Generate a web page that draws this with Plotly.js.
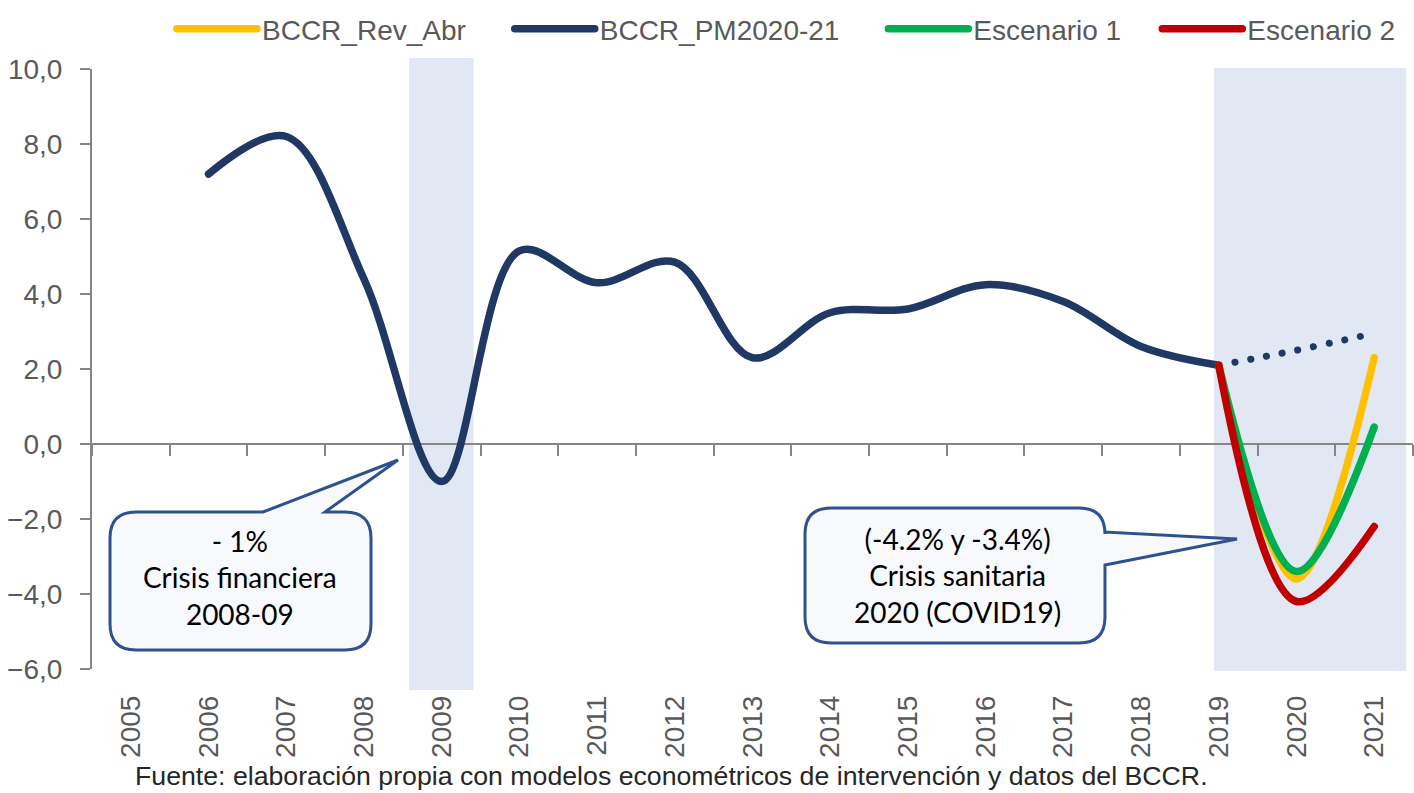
<!DOCTYPE html>
<html>
<head>
<meta charset="utf-8">
<script src="https://cdn.plot.ly/plotly-3.0.1.min.js"></script>
<style>
  html, body { margin: 0; padding: 0; background: #fff; }
  #chart { width: 1414px; height: 793px; }
  .js-line { stroke-linecap: round; stroke-linejoin: round; }
</style>
</head>
<body>
<div id="chart"></div>
<script>
// ---- data ----
const years = ['2005','2006','2007','2008','2009','2010','2011','2012','2013','2014','2015','2016','2017','2018','2019','2020','2021'];
const pmValues = [null, 7.2, 8.2, 4.4, -1.0, 5.15, 4.3, 4.85, 2.3, 3.5, 3.6, 4.25, 3.8, 2.6, 2.1, null, null];
const pmProjection = [null, null, null, null, null, null, null, null, null, null, null, null, null, null, 2.1, 2.5, 2.95];
const revAbr = [null, null, null, null, null, null, null, null, null, null, null, null, null, null, 2.1, -3.6, 2.3];
const escenario1 = [null, null, null, null, null, null, null, null, null, null, null, null, null, null, 2.1, -3.4, 0.45];
const escenario2 = [null, null, null, null, null, null, null, null, null, null, null, null, null, null, 2.1, -4.2, -2.2];
const seriesNames = ['BCCR_Rev_Abr', 'BCCR_PM2020-21', 'Escenario 1', 'Escenario 2'];
const yTicks = [-6, -4, -2, 0, 2, 4, 6, 8, 10];
const sourceText = 'Fuente: elaboración propia con modelos econométricos de intervención y datos del BCCR.';
const note1 = ['- 1%', 'Crisis financiera', '2008-09'];
const note2 = ['(-4.2% y -3.4%)', 'Crisis sanitaria', '2020 (COVID19)'];

// ---- geometry helpers (pixel -> paper) ----
const L = 92, T = 69, W = 1321, H = 600;
const px = x => (x - L) / W;
const py = y => (T + H - y) / H;

function bubblePath(x0, y0, x1, y1, r, tail) {
  const P = (x, y) => px(x).toFixed(5) + ',' + py(y).toFixed(5);
  let d = 'M' + P(x0 + r, y0);
  if (tail.side === 'top') {
    d += ' L' + P(tail.a, y0) + ' L' + P(tail.tx, tail.ty) + ' L' + P(tail.b, y0);
  }
  d += ' L' + P(x1 - r, y0) + ' Q' + P(x1, y0) + ' ' + P(x1, y0 + r);
  if (tail.side === 'right') {
    d += ' L' + P(x1, tail.a) + ' L' + P(tail.tx, tail.ty) + ' L' + P(x1, tail.b);
  }
  d += ' L' + P(x1, y1 - r) + ' Q' + P(x1, y1) + ' ' + P(x1 - r, y1);
  d += ' L' + P(x0 + r, y1) + ' Q' + P(x0, y1) + ' ' + P(x0, y1 - r);
  d += ' L' + P(x0, y0 + r) + ' Q' + P(x0, y0) + ' ' + P(x0 + r, y0) + ' Z';
  return d;
}

const navy = '#1F3864';
const lineW = 7.5;
const grayTxt = '#595959';
const axisGray = '#868686';
const sans = '"Liberation Sans", Arial, sans-serif';
const noteFont = 'Lato, Carlito, Calibri, sans-serif';
const pad5 = '\u00a0\u00a0\u00a0\u00a0\u00a0';
const pad4 = '\u00a0\u00a0\u00a0\u00a0';

const traces = [
  { x: years, y: pmValues, name: seriesNames[1] + pad5, type: 'scatter', mode: 'lines',
    line: { color: navy, width: lineW, shape: 'spline', smoothing: 1.0 }, legendrank: 2, hoverinfo: 'skip' },
  { x: years, y: pmProjection, name: seriesNames[1] + ' proy', type: 'scatter', mode: 'lines', showlegend: false,
    line: { color: navy, width: 7, shape: 'spline', smoothing: 1.0, dash: '0.1px,16px' }, hoverinfo: 'skip' },
  { x: years, y: revAbr, name: seriesNames[0] + pad5, type: 'scatter', mode: 'lines',
    line: { color: '#FFC000', width: lineW, shape: 'spline', smoothing: 1.0 }, legendrank: 1, hoverinfo: 'skip' },
  { x: years, y: escenario1, name: seriesNames[2] + pad4, type: 'scatter', mode: 'lines',
    line: { color: '#00B050', width: lineW, shape: 'spline', smoothing: 1.0 }, legendrank: 3, hoverinfo: 'skip' },
  { x: years, y: escenario2, name: seriesNames[3], type: 'scatter', mode: 'lines', xaxis: 'x2',
    line: { color: '#C00000', width: lineW, shape: 'spline', smoothing: 1.0 }, legendrank: 4, hoverinfo: 'skip' }
];

const band = 'rgb(225,232,244)';
const bubbleLine = '#2F528F';
const bubbleFill = 'rgb(247,249,253)';

const layout = {
  width: 1414, height: 793,
  margin: { l: L, r: 1414 - L - W, t: T, b: 793 - T - H, pad: 0 },
  paper_bgcolor: '#fff', plot_bgcolor: 'rgba(0,0,0,0)',
  separators: ',.',
  showlegend: true,
  legend: {
    orientation: 'h', x: px(172), y: py(29), xanchor: 'left', yanchor: 'middle',
    font: { family: sans, size: 28, color: grayTxt },
    itemwidth: 80, bgcolor: 'rgba(0,0,0,0)', traceorder: 'normal'
  },
  xaxis: {
    type: 'category', categoryorder: 'array', categoryarray: years, range: [-0.5, 16.5],
    showline: false, ticks: '', showgrid: false, zeroline: false, automargin: false,
    tickangle: -90, ticklabelstandoff: 20,
    tickfont: { family: sans, size: 28, color: grayTxt }, fixedrange: true
  },
  xaxis2: {
    type: 'category', categoryorder: 'array', categoryarray: years, matches: 'x',
    overlaying: 'x', anchor: 'free', position: (0 - (-6)) / 16, side: 'bottom', automargin: false,
    showline: true, linecolor: axisGray, linewidth: 2,
    ticks: 'outside', tickson: 'boundaries', ticklen: 11, tickwidth: 2, tickcolor: axisGray,
    showticklabels: false, showgrid: false, zeroline: false, layer: 'below traces'
  },
  yaxis: {
    range: [-6, 10], tickvals: yTicks, tickformat: '.1f', automargin: false,
    showline: true, linecolor: axisGray, linewidth: 2,
    ticks: 'outside', ticklen: 10, tickwidth: 2, tickcolor: axisGray,
    showgrid: false, zeroline: false, ticklabelstandoff: 12,
    tickfont: { family: sans, size: 28, color: grayTxt }, fixedrange: true
  },
  shapes: [
    { type: 'rect', xref: 'x', yref: 'paper', x0: 3.58, x1: 4.41, y0: py(690), y1: py(58),
      fillcolor: band, line: { width: 0 }, layer: 'below' },
    { type: 'rect', xref: 'x', yref: 'paper', x0: 13.94, x1: 16.41, y0: py(671), y1: py(68),
      fillcolor: band, line: { width: 0 }, layer: 'below' },
    { type: 'path', xref: 'paper', yref: 'paper',
      path: bubblePath(110, 512, 371, 650, 26, { side: 'top', a: 263, b: 325, tx: 398, ty: 460 }),
      fillcolor: bubbleFill, line: { color: bubbleLine, width: 3 }, layer: 'above' },
    { type: 'path', xref: 'paper', yref: 'paper',
      path: bubblePath(805, 508, 1105, 643, 26, { side: 'right', a: 532, b: 565, tx: 1237, ty: 539 }),
      fillcolor: bubbleFill, line: { color: bubbleLine, width: 3 }, layer: 'above' }
  ],
  annotations: [
    { xref: 'paper', yref: 'paper', x: px(240), y: py(577), xanchor: 'center', yanchor: 'middle',
      text: note1.join('<br>'), showarrow: false, align: 'center',
      font: { family: noteFont, size: 28, color: '#000' } },
    { xref: 'paper', yref: 'paper', x: px(957), y: py(575), xanchor: 'center', yanchor: 'middle',
      text: note2.join('<br>'), showarrow: false, align: 'center',
      font: { family: noteFont, size: 28, color: '#000' } },
    { xref: 'paper', yref: 'paper', x: px(133), y: py(776), xanchor: 'left', yanchor: 'middle',
      text: sourceText, showarrow: false,
      font: { family: sans, size: 26.7, color: '#262626' } }
  ]
};

Plotly.newPlot('chart', traces, layout, { displayModeBar: false, staticPlot: true });
</script>
</body>
</html>
